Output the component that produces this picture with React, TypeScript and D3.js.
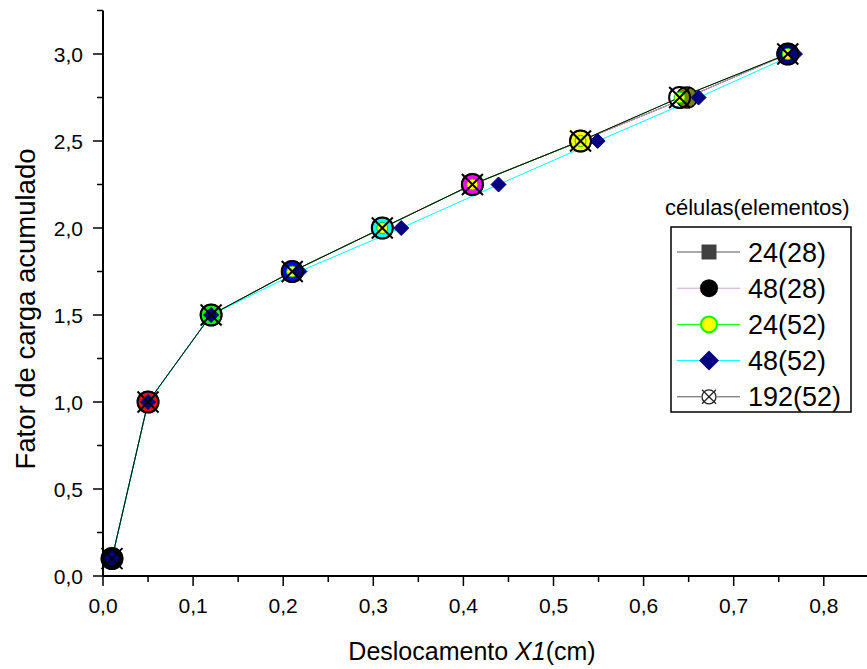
import React from 'react';
import * as d3 from 'd3';

const yValues = [0.1, 1.0, 1.5, 1.75, 2.0, 2.25, 2.5, 2.75, 3.0];
const x24_28 = [0.01, 0.05, 0.12, 0.21, 0.31, 0.41, 0.53, 0.648, 0.76];
const x48_28 = [0.01, 0.05, 0.12, 0.21, 0.31, 0.41, 0.53, 0.648, 0.76];
const x24_52 = [0.01, 0.05, 0.12, 0.21, 0.31, 0.41, 0.53, 0.64, 0.76];
const x48_52 = [0.01, 0.05, 0.12, 0.218, 0.331, 0.439, 0.549, 0.661, 0.768];
const x192_52 = [0.01, 0.05, 0.12, 0.21, 0.31, 0.41, 0.53, 0.64, 0.76];
const pointColors = ['#000000', '#ff0000', '#00ff00', '#0000ff', '#00ffff', '#ff00ff', '#ffff00', '#808000', '#000080'];
const xTicks = [0, 0.1, 0.2, 0.3, 0.4, 0.5, 0.6, 0.7, 0.8];
const yTicks = [0, 0.5, 1.0, 1.5, 2.0, 2.5, 3.0];
const legendLabels = ['24(28)', '48(28)', '24(52)', '48(52)', '192(52)'];
const lineColors = ['#000000', '#d4a0d4', '#00ff00', '#00ffff', '#000000'];

const W = 867;
const H = 669;
const FONT = '"Liberation Sans", Arial, sans-serif';

const fmt = (v: number) => v.toFixed(1).replace('.', ',');

export default function App() {
  const x = d3.scaleLinear().domain([0, 0.85]).range([103, 103 + 0.85 * 901]);
  const y = d3.scaleLinear().domain([0, 3]).range([576, 54]);
  const line = d3.line<[number, number]>().x((d) => x(d[0])).y((d) => y(d[1]));
  const seriesX = [x24_28, x48_28, x24_52, x48_52, x192_52];
  const pts = (xs: number[]) => xs.map((v, i) => [v, yValues[i]] as [number, number]);

  const xMinor = d3.range(0, 17).map((i) => i * 0.05);
  const yMinor = d3.range(0, 14).map((i) => i * 0.25);
  const x0 = x(0);
  const y0 = y(0);

  const diamond = (cx: number, cy: number, r: number) =>
    `M${cx},${cy - r}L${cx + r},${cy}L${cx},${cy + r}L${cx - r},${cy}Z`;

  const crossCircle = (cx: number, cy: number, r: number, key: string, sw = 2, col = '#000') => (
    <g key={key} stroke={col} strokeWidth={sw} fill="none">
      <circle cx={cx} cy={cy} r={r} />
      <line x1={cx - r} y1={cy - r} x2={cx + r} y2={cy + r} />
      <line x1={cx - r} y1={cy + r} x2={cx + r} y2={cy - r} />
    </g>
  );

  const legX = 671;
  const legY = 227;
  const rowY = (i: number) => legY + 25 + i * 36.2;
  const mx = 709;

  return (
    <svg width={W} height={H} style={{ position: 'absolute', left: 0, top: 0, background: '#fff' }} fontFamily={FONT}>
      <rect x={0} y={0} width={W} height={H} fill="#fff" />
      {/* lines */}
      {seriesX.map((xs, si) => (
        <path key={'l' + si} d={line(pts(xs)) || ''} fill="none" stroke={lineColors[si]} strokeWidth={1} />
      ))}
      {/* 24(28) squares */}
      {pts(x24_28).map((d, i) => (
        <rect key={'s' + i} x={x(d[0]) - 7} y={y(d[1]) - 7} width={14} height={14} fill="#404040" stroke="#404040" />
      ))}
      {/* 48(28) circles, colour incremented per point */}
      {pts(x48_28).map((d, i) => (
        <circle key={'c' + i} cx={x(d[0])} cy={y(d[1])} r={10.5} fill={pointColors[i]} stroke="#000" strokeWidth={1.5} />
      ))}
      {/* 24(52) yellow circles */}
      {pts(x24_52).map((d, i) => (
        <circle key={'y' + i} cx={x(d[0])} cy={y(d[1])} r={5.5} fill="#ffff00" stroke="#00cc00" strokeWidth={1} />
      ))}
      {/* 48(52) diamonds */}
      {pts(x48_52).map((d, i) => (
        <path key={'d' + i} d={diamond(x(d[0]), y(d[1]), 7.5)} fill="#000080" stroke="#000080" strokeWidth={1} />
      ))}
      {/* 192(52) crossed circles */}
      {pts(x192_52).map((d, i) => crossCircle(x(d[0]), y(d[1]), 10.5, 'x' + i))}

      {/* axes */}
      <g stroke="#000">
        <line x1={x0} y1={y0} x2={x0} y2={y(3.25)} strokeWidth={2} />
        <line x1={x0} y1={y0} x2={W} y2={y0} strokeWidth={2} />
        {yMinor.map((v) => (
          <line key={'ym' + v} x1={x0 - (Math.abs(v * 2 - Math.round(v * 2)) < 1e-6 ? 10 : 6)} x2={x0} y1={y(v)} y2={y(v)} strokeWidth={1.5} />
        ))}
        {xMinor.map((v) => (
          <line key={'xm' + v} y1={y0} y2={y0 + (Math.abs(v * 10 - Math.round(v * 10)) < 1e-6 ? 10 : 6)} x1={x(v)} x2={x(v)} strokeWidth={1.5} />
        ))}
      </g>
      <g fontSize={21} fill="#000">
        {yTicks.map((v) => (
          <text key={'yt' + v} x={x0 - 20} y={y(v) + 7.5} textAnchor="end">{fmt(v)}</text>
        ))}
        {xTicks.map((v) => (
          <text key={'xt' + v} x={x(v)} y={613} textAnchor="middle">{fmt(v)}</text>
        ))}
      </g>
      {/* axis titles */}
      <text x={0} y={0} transform={`translate(35,309) rotate(-90)`} textAnchor="middle" fontSize={27.5} fill="#000">
        Fator de carga acumulado
      </text>
      <text x={472} y={660} textAnchor="middle" fontSize={25} fill="#000">
        Deslocamento <tspan fontStyle="italic">X1</tspan>(cm)
      </text>

      {/* legend */}
      <text x={665} y={215} fontSize={22} fill="#000">células(elementos)</text>
      <rect x={legX} y={legY} width={180} height={185} fill="#fff" stroke="#000" strokeWidth={1.5} />
      {legendLabels.map((lab, i) => {
        const cy = rowY(i);
        return (
          <g key={'lg' + i}>
            <line x1={677} x2={740} y1={cy} y2={cy} stroke={i === 0 || i === 4 ? '#555' : lineColors[i]} strokeWidth={1} />
            {i === 0 && <rect x={mx - 7.5} y={cy - 7.5} width={15} height={15} fill="#404040" />}
            {i === 1 && <circle cx={mx} cy={cy} r={9} fill="#000" />}
            {i === 2 && <circle cx={mx} cy={cy} r={8} fill="#ffff00" stroke="#00ff00" strokeWidth={2} />}
            {i === 3 && <path d={diamond(mx, cy, 10)} fill="#000080" />}
            {i === 4 && (
              <g>
                <rect x={mx - 8} y={cy - 8} width={16} height={16} fill="#fff" />
                {crossCircle(mx, cy, 7, 'lgx', 1.3, '#222')}
              </g>
            )}
            <text x={748} y={cy + 9.5} fontSize={27} fill="#000">{lab}</text>
          </g>
        );
      })}
    </svg>
  );
}
